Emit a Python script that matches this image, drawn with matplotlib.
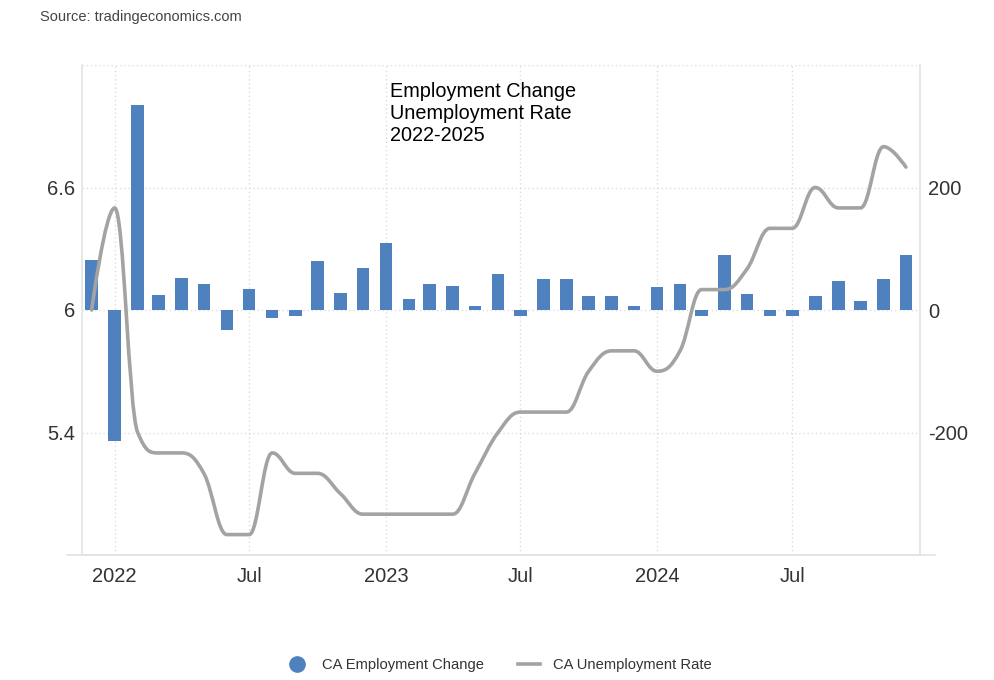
import numpy as np
import pandas as pd
import matplotlib
matplotlib.use('Agg')
import matplotlib.pyplot as plt
import matplotlib.dates as mdates
from matplotlib.path import Path
from matplotlib.patches import PathPatch
from matplotlib.lines import Line2D

plt.rcParams['font.family'] = ['Liberation Sans', 'DejaVu Sans']

# Dados (mensal, dez/2021 - dez/2024)
meses = pd.date_range('2021-12-01', '2024-12-01', freq='MS')

# CA Employment Change (milhares)
emprego = [82, -214, 335, 25, 52, 43, -32, 34, -13, -10, 80, 27, 68,
           110, 18, 43, 40, 7, 59, -9, 51, 51, 23, 23, 7,
           37, 42, -9, 90, 26, -9, -9, 23, 48, 15, 51, 90]

# CA Unemployment Rate (%)
desemprego = [6.0, 6.5, 5.4, 5.3, 5.3, 5.2, 4.9, 4.9, 5.3, 5.2, 5.2, 5.1, 5.0,
              5.0, 5.0, 5.0, 5.0, 5.2, 5.4, 5.5, 5.5, 5.5, 5.7, 5.8, 5.8,
              5.7, 5.8, 6.1, 6.1, 6.2, 6.4, 6.4, 6.6, 6.5, 6.5, 6.8, 6.7]

xticks = ['2022-01-01', '2022-07-01', '2023-01-01', '2023-07-01', '2024-01-01', '2024-07-01']
xlabels = ['2022', 'Jul', '2023', 'Jul', '2024', 'Jul']

azul = '#4f81bf'
cinza = '#a3a3a3'
grade = '#dcdcdc'
texto = '#333333'


def spline(xs, ys, sm=1.5):
    # curva suave estilo "spline" (Bezier cubica passando pelos pontos)
    n = len(xs)
    left = [None] * n
    right = [None] * n
    d = sm + 1
    for i in range(1, n - 1):
        px, py = xs[i], ys[i]
        lx, ly = xs[i - 1], ys[i - 1]
        nx, ny = xs[i + 1], ys[i + 1]
        lcx = (sm * px + lx) / d
        lcy = (sm * py + ly) / d
        rcx = (sm * px + nx) / d
        rcy = (sm * py + ny) / d
        corr = 0
        if rcx != lcx:
            corr = (rcy - lcy) * (rcx - px) / (rcx - lcx) + py - rcy
        lcy += corr
        rcy += corr
        if lcy > ly and lcy > py:
            lcy = max(ly, py)
            rcy = 2 * py - lcy
        elif lcy < ly and lcy < py:
            lcy = min(ly, py)
            rcy = 2 * py - lcy
        if rcy > ny and rcy > py:
            rcy = max(ny, py)
            lcy = 2 * py - rcy
        elif rcy < ny and rcy < py:
            rcy = min(ny, py)
            lcy = 2 * py - rcy
        left[i] = (lcx, lcy)
        right[i] = (rcx, rcy)
    verts = [(xs[0], ys[0])]
    codes = [Path.MOVETO]
    for i in range(1, n):
        c1 = right[i - 1] if right[i - 1] else (xs[i - 1], ys[i - 1])
        c2 = left[i] if left[i] else (xs[i], ys[i])
        verts += [c1, c2, (xs[i], ys[i])]
        codes += [Path.CURVE4] * 3
    return Path(verts, codes)


fig = plt.figure(figsize=(9.94, 6.8), dpi=100)
ax = fig.add_axes([82 / 994, 1 - 555 / 680, (920 - 82) / 994, (555 - 65) / 680])
ax2 = ax.twinx()

# Barras - eixo da direita
ax.bar(meses, emprego, width=17, color=azul, zorder=3)
ax.set_ylim(-400, 400)
ax.set_yticks([-400, -200, 0, 200, 400])
ax.set_yticklabels(['', '-200', '0', '200', ''])

ax.set_xlim(pd.Timestamp('2021-11-18'), pd.Timestamp('2024-12-20'))
ax.set_xticks(pd.to_datetime(xticks))
ax.set_xticklabels(xlabels)
ax.tick_params(axis='x', length=0, pad=9, labelsize=14.5, labelcolor=texto)
ax.grid(True, color=grade, linestyle=(0, (1, 2)), linewidth=1, zorder=0)
ax.set_axisbelow(True)

ax.spines['top'].set_visible(False)
for s in ['left', 'right', 'bottom']:
    ax.spines[s].set_color('#e3e3e3')
    ax.spines[s].set_linewidth(1.2)

# Linha - eixo da esquerda
ax2.set_ylim(4.8, 7.2)
ax2.set_yticks([4.8, 5.4, 6.0, 6.6, 7.2])
ax2.set_yticklabels(['', '5.4', '6', '6.6', ''])
for s in ax2.spines.values():
    s.set_visible(False)

ax.yaxis.tick_right()
ax2.yaxis.tick_left()
ax.tick_params(axis='y', length=0, pad=6, labelsize=14.5, labelcolor=texto)
ax2.tick_params(axis='y', length=0, pad=5, labelsize=14.5, labelcolor=texto)

xs = mdates.date2num(meses)
caminho = spline(list(xs), desemprego)
ax2.add_patch(PathPatch(caminho, facecolor='none', edgecolor=cinza, lw=2.6,
                        capstyle='round', joinstyle='round', zorder=4))

# linha de base estendida
fig.add_artist(Line2D([67 / 994, 935 / 994], [1 - 555 / 680] * 2,
                      color='#e3e3e3', lw=1.2))

fig.text(40 / 994, 1 - 17 / 680, 'Source: tradingeconomics.com', fontsize=10.5,
         color='#444444', va='center', ha='left')
fig.text(390 / 994, 1 - 82 / 680, 'Employment Change\nUnemployment Rate\n2022-2025',
         fontsize=14.3, color='black', va='top', ha='left', linespacing=1.2)

handles = [Line2D([], [], marker='o', linestyle='none', color=azul, markersize=11),
           Line2D([], [], color=cinza, lw=2.6)]
fig.legend(handles, ['CA Employment Change', 'CA Unemployment Rate'],
           loc='center', bbox_to_anchor=(0.502, 1 - 665 / 680), ncol=2,
           frameon=False, fontsize=10.6, labelcolor=texto,
           handlelength=1.5, handletextpad=0.9, columnspacing=2.3)

fig.savefig('out.png', dpi=100)
